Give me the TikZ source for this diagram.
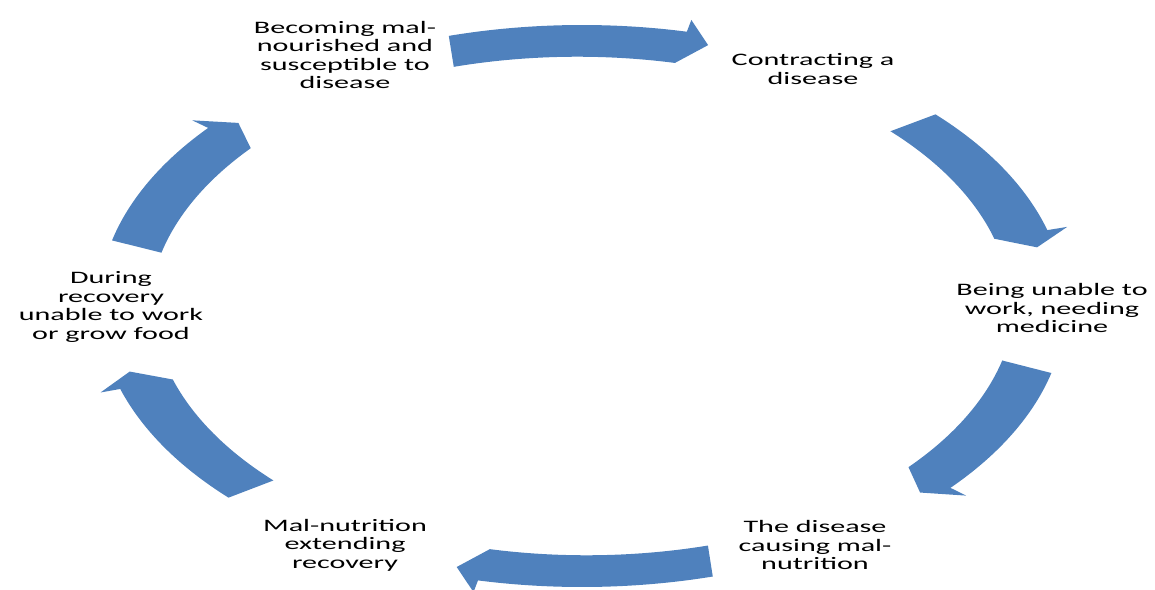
\documentclass[tikz,border=0pt]{standalone}
\usepackage{fontspec}
\setmainfont{Carlito}[FakeStretch=1.72]
\definecolor{arrowblue}{HTML}{4F81BD}
\tikzset{
  cyclabel/.style={align=center, text=black, inner sep=0pt,
    font=\fontsize{17.5}{18.5}\selectfont},
  cycfill/.style={fill=arrowblue, draw=none}
}
% block arrow along the cycle circle: #1 tail angle, #2 tip angle (clockwise)
\newcommand\blockarc[2]{%
  \pgfmathsetmacro\hbase{#2+3.17}%
  \fill[cycfill] (#1:281pt) arc[start angle=#1, end angle=\hbase, radius=281pt]
    -- (\hbase:293pt) -- (#2:271pt) -- (\hbase:249pt)
    arc[start angle=\hbase, end angle=#1, radius=261pt] -- cycle;
}
\begin{document}
\begin{tikzpicture}[x=1pt,y=1pt]
\useasboundingbox (0,0) rectangle (1155,-589);
\clip (0,0) rectangle (1155,-589);
\node[cyclabel] (becoming) at (345,-55) {Becoming mal-\\nourished and\\susceptible to\\disease};
\node[cyclabel] (contract) at (813,-69) {Contracting a\\disease};
\node[cyclabel] (unable) at (1052,-308) {Being unable to\\work, needing\\medicine};
\node[cyclabel] (causing) at (815,-545) {The disease\\causing mal-\\nutrition};
\node[cyclabel] (extending) at (345,-545) {Mal-nutrition\\extending\\recovery};
\node[cyclabel] (during) at (111,-307) {During\\recovery\\unable to work\\or grow food};
\begin{scope}[shift={(582pt,-306pt)}, xscale=1.72]
  \blockarc{106}{74.3}
  \blockarc{43}{12.5}
  \blockarc{-13.8}{-43.5}
  \blockarc{-74.3}{-105.6}
  \blockarc{-137}{-166}
  \blockarc{166.5}{137.5}
\end{scope}
\end{tikzpicture}
\end{document}
